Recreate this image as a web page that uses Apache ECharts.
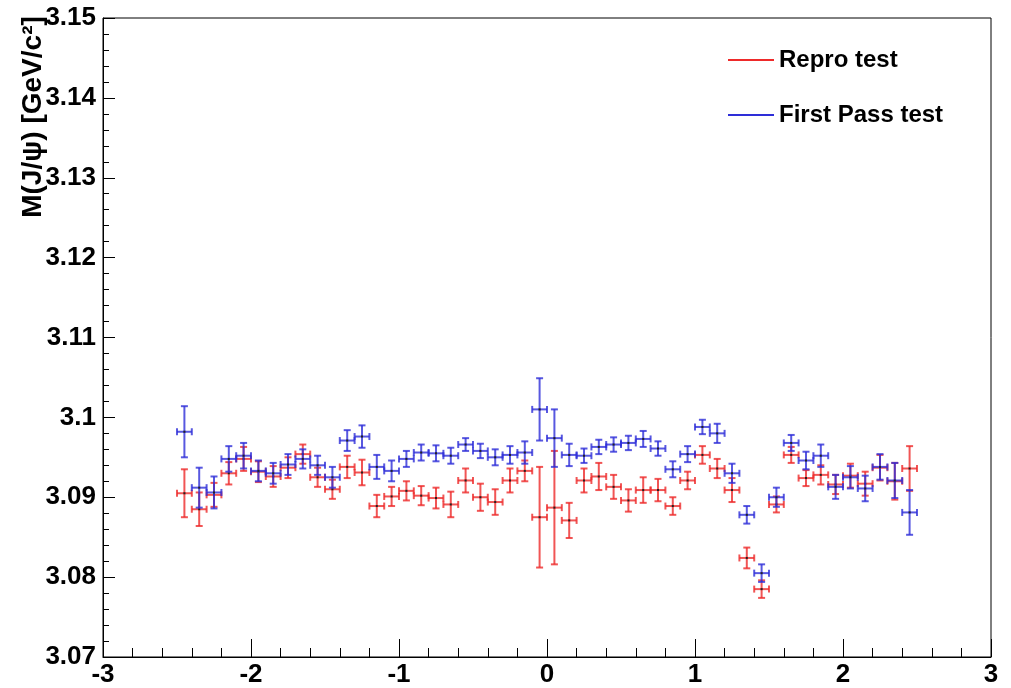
<!DOCTYPE html>
<html>
<head>
<meta charset="utf-8">
<script src="https://cdn.jsdelivr.net/npm/echarts@6/dist/echarts.min.js"></script>
<style>
html,body{margin:0;padding:0;background:#fff;}
#chart{width:1011px;height:688px;}
</style>
</head>
<body>
<div id="chart"></div>
<script>
// ---- data ----
const xBins = [-2.45,-2.35,-2.25,-2.15,-2.05,-1.95,-1.85,-1.75,-1.65,-1.55,
               -1.45,-1.35,-1.25,-1.15,-1.05,-0.95,-0.85,-0.75,-0.65,-0.55,
               -0.45,-0.35,-0.25,-0.15,-0.05,0.05,0.15,0.25,0.35,0.45,
               0.55,0.65,0.75,0.85,0.95,1.05,1.15,1.25,1.35,1.45,
               1.55,1.65,1.75,1.85,1.95,2.05,2.15,2.25,2.35,2.45];
const binHalfWidth = 0.05;

const reproY = [3.0905,3.0885,3.0903,3.0930,3.0948,3.0932,3.0926,3.0937,3.0954,3.0925,
                3.0910,3.0938,3.0931,3.0889,3.0901,3.0908,3.0902,3.0899,3.0891,3.0921,
                3.0900,3.0894,3.0921,3.0933,3.0875,3.0887,3.0871,3.0921,3.0926,3.0913,
                3.0896,3.0909,3.0909,3.0889,3.0921,3.0953,3.0936,3.0909,3.0824,3.0785,
                3.0891,3.0953,3.0924,3.0928,3.0916,3.0927,3.0917,3.0937,3.0920,3.0936];
const reproErr = [0.0030,0.0021,0.0015,0.0014,0.0015,0.0013,0.0013,0.0013,0.0012,0.0012,
                  0.0012,0.0014,0.0016,0.0014,0.0012,0.0012,0.0012,0.0013,0.0016,0.0015,
                  0.0017,0.0016,0.0015,0.0013,0.0063,0.0071,0.0022,0.0015,0.0017,0.0015,
                  0.0014,0.0016,0.0014,0.0011,0.0011,0.0011,0.0012,0.0015,0.0013,0.0011,
                  0.0010,0.0010,0.0010,0.0012,0.0012,0.0015,0.0015,0.0016,0.0023,0.0028];

const firstY = [3.0982,3.0912,3.0906,3.0948,3.0952,3.0933,3.0930,3.0941,3.0948,3.0940,
                3.0925,3.0971,3.0976,3.0938,3.0933,3.0948,3.0956,3.0955,3.0952,3.0966,
                3.0958,3.0950,3.0953,3.0956,3.1010,3.0974,3.0953,3.0952,3.0963,3.0966,
                3.0968,3.0973,3.0961,3.0935,3.0954,3.0988,3.0980,3.0930,3.0878,3.0805,
                3.0900,3.0968,3.0946,3.0952,3.0913,3.0925,3.0911,3.0938,3.0921,3.0881];
const firstErr = [0.0032,0.0025,0.0020,0.0016,0.0016,0.0013,0.0013,0.0013,0.0012,0.0012,
                  0.0013,0.0013,0.0014,0.0015,0.0013,0.0010,0.0010,0.0010,0.0010,0.0008,
                  0.0009,0.0010,0.0011,0.0014,0.0039,0.0036,0.0014,0.0009,0.0009,0.0009,
                  0.0009,0.0010,0.0009,0.0010,0.0010,0.0009,0.0012,0.0012,0.0011,0.0011,
                  0.0012,0.0010,0.0011,0.0014,0.0015,0.0014,0.0016,0.0016,0.0022,0.0028];

const seriesNames = ['Repro test', 'First Pass test'];
const yTitle = 'M(J/ψ) [GeV/c²]';

// ---- chart ----
const FONT = '"Liberation Sans", Arial, Helvetica, sans-serif';
const RED = '#ee2a2a';
const BLUE = '#2e2ed8';

function makeRender(color) {
  return function (params, api) {
    const x = api.value(0), y = api.value(1), ey = api.value(2);
    const c = api.coord([x, y]);
    const l = api.coord([x - binHalfWidth, y]);
    const r = api.coord([x + binHalfWidth, y]);
    const t = api.coord([x, y + ey]);
    const b = api.coord([x, y - ey]);
    const cap = 3.5;
    const st = { stroke: color, lineWidth: 2, opacity: 0.8 };
    const line = (x1, y1, x2, y2) => ({ type: 'line', shape: { x1, y1, x2, y2 }, style: st });
    return {
      type: 'group',
      children: [
        line(l[0], l[1], r[0], r[1]),
        line(t[0], t[1], b[0], b[1]),
        line(l[0], l[1] - cap, l[0], l[1] + cap),
        line(r[0], r[1] - cap, r[0], r[1] + cap),
        line(t[0] - cap, t[1], t[0] + cap, t[1]),
        line(b[0] - cap, b[1], b[0] + cap, b[1]),
        { type: 'rect', shape: { x: c[0] - 1, y: c[1] - 1, width: 2, height: 2 }, style: { fill: '#222' } }
      ]
    };
  };
}

const chart = echarts.init(document.getElementById('chart'), null, { renderer: 'canvas' });
chart.setOption({
  animation: false,
  backgroundColor: '#fff',
  grid: { left: 103, right: 20, top: 18, bottom: 28, show: true, borderColor: '#000', borderWidth: 1, backgroundColor: 'transparent' },
  legend: {
    orient: 'vertical', left: 723, top: 43, itemWidth: 46, itemHeight: 2, itemGap: 31,
    icon: 'rect', data: seriesNames,
    textStyle: { fontFamily: FONT, fontWeight: 'bold', fontSize: 24, color: '#000' }
  },
  xAxis: {
    type: 'value', min: -3, max: 3, interval: 1,
    axisLine: { show: true, onZero: false, lineStyle: { color: '#000', width: 1 } },
    axisTick: { show: true, inside: true, length: 18, lineStyle: { color: '#000' } },
    minorTick: { show: true, splitNumber: 5, length: 9, lineStyle: { color: '#000' } },
    splitLine: { show: false },
    axisLabel: { margin: 5, fontFamily: FONT, fontWeight: 'bold', fontSize: 26, color: '#000' }
  },
  yAxis: {
    type: 'value', min: 3.07, max: 3.15, interval: 0.01,
    axisLine: { show: true, onZero: false, lineStyle: { color: '#000', width: 1 } },
    axisTick: { show: true, inside: true, length: 12, lineStyle: { color: '#000' } },
    minorTick: { show: true, splitNumber: 5, length: 6, lineStyle: { color: '#000' } },
    splitLine: { show: false },
    axisLabel: {
      margin: 7, fontFamily: FONT, fontWeight: 'bold', fontSize: 26, color: '#000',
      formatter: v => String(Number(v.toFixed(2)))
    }
  },
  graphic: [{
    type: 'text', rotation: Math.PI / 2,
    x: 33, y: 117,
    style: {
      text: yTitle, fontFamily: FONT, fontWeight: 'bold', fontSize: 28, fill: '#000',
      textAlign: 'center', textVerticalAlign: 'middle'
    }
  }],
  series: [
    {
      name: seriesNames[0], type: 'custom', itemStyle: { color: RED },
      renderItem: makeRender(RED),
      data: reproY.map((v, i) => [xBins[i], v, reproErr[i]])
    },
    {
      name: seriesNames[1], type: 'custom', itemStyle: { color: BLUE },
      renderItem: makeRender(BLUE),
      data: firstY.map((v, i) => [xBins[i], v, firstErr[i]])
    }
  ]
});
</script>
</body>
</html>
